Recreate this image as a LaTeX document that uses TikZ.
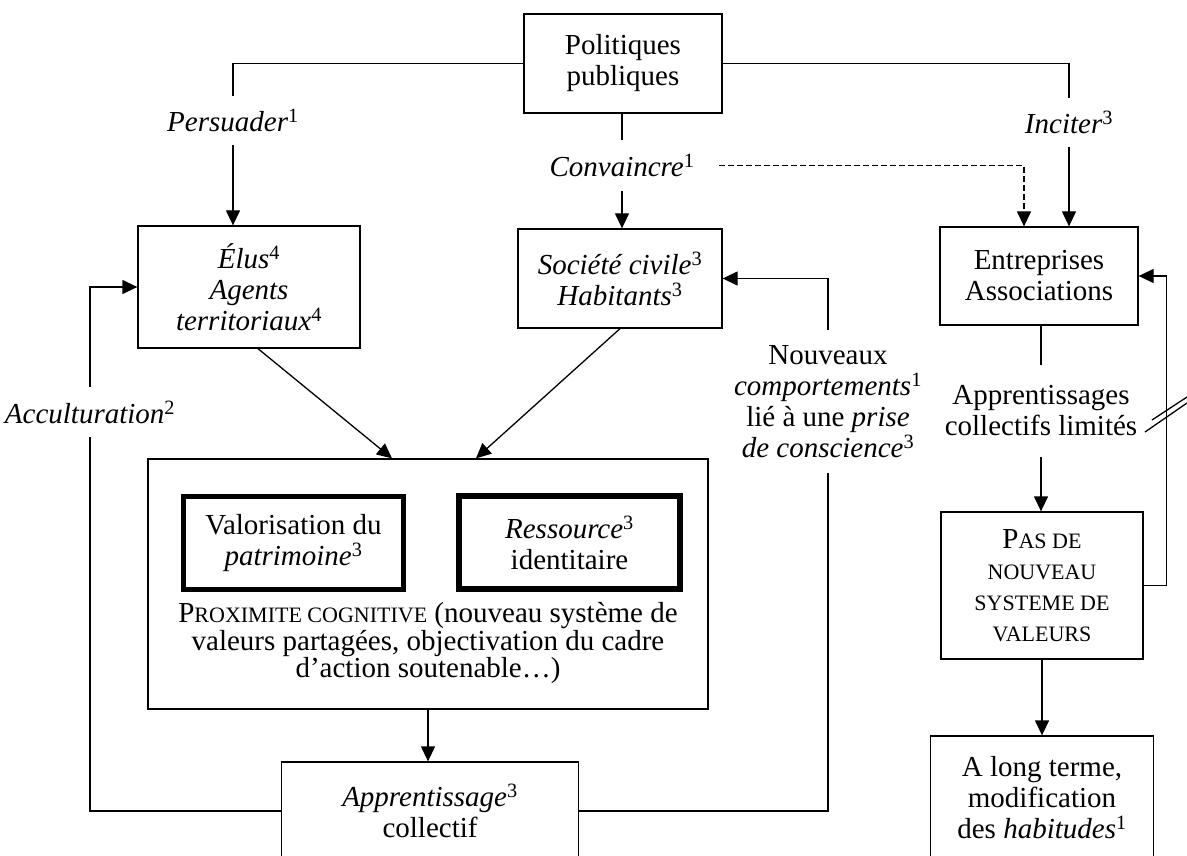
\documentclass[tikz,border=0pt]{standalone}
\usepackage{fontspec}
\setmainfont{Liberation Serif}
\usetikzlibrary{arrows.meta}

\newcommand{\Sc}[1]{{\fontsize{22}{31}\selectfont #1}}
\newcommand{\Lw}{1.3pt}

\begin{document}
\begin{tikzpicture}[x=1pt,y=-1pt,
  box/.style={draw,line width=\Lw,align=center,inner sep=0pt,font=\fontsize{29}{31}\selectfont},
  thickbox/.style={box,line width=5.5pt},
  lbl/.style={align=center,inner sep=0pt,font=\fontsize{29}{31}\selectfont},
  link/.style={line width=\Lw},
  arr/.style={line width=\Lw,-{Triangle[length=15pt,width=14pt]}}]
\useasboundingbox (0,0) rectangle (1187,856);

% boxes
\node[box,minimum width=198pt,minimum height=99pt] (pol) at (623,63.5) {Politiques\\publiques};
\node[box,minimum width=222pt,minimum height=122pt] (elus) at (249,287) {\textit{Élus}\textsuperscript{4}\\\textit{Agents}\\\textit{territoriaux}\textsuperscript{4}};
\node[box,minimum width=204pt,minimum height=99pt] (soc) at (620,278.5) {\textit{Société civile}\textsuperscript{3}\\\textit{Habitants}\textsuperscript{3}};
\node[box,minimum width=198pt,minimum height=98pt] (entr) at (1039,276) {Entreprises\\Associations};
\node[box,minimum width=560pt,minimum height=250pt] (prox) at (428,584) {};
\node[thickbox,minimum width=220pt,minimum height=93pt] (valo) at (293.5,543) {Valorisation du\\\textit{patrimoine}\textsuperscript{3}};
\node[thickbox,minimum width=221pt,minimum height=93pt] (ress) at (569.5,542.5) {\textit{Ressource}\textsuperscript{3}\\identitaire};
\node[lbl,font=\fontsize{29}{26}\selectfont] (proxtxt) at (428,643) {P\Sc{ROXIMITE COGNITIVE} (nouveau système de\\valeurs partagées, objectivation du cadre\\d’action soutenable…)};
\node[box,minimum width=297pt,minimum height=98pt] (appr) at (430,811) {\textit{Apprentissage}\textsuperscript{3}\\collectif};
\node[box,minimum width=202pt,minimum height=147pt] (pasde) at (1042,585.5) {P\Sc{AS DE}\\\Sc{NOUVEAU}\\\Sc{SYSTEME DE}\\\Sc{VALEURS}};
\node[box,minimum width=223pt,minimum height=124pt] (long) at (1042,798) {A long terme,\\modification\\des \textit{habitudes}\textsuperscript{1}};

% labels on the links
\node[lbl,minimum height=49pt] (pers) at (233,120.5) {\textit{Persuader}\textsuperscript{1}};
\node[lbl,minimum height=51pt,minimum width=194pt] (conv) at (622,165.5) {\textit{Convaincre}\textsuperscript{1}};
\node[lbl,minimum height=49pt] (inc) at (1069,122.5) {\textit{Inciter}\textsuperscript{3}};
\node[lbl,minimum height=50pt] (acc) at (90,412) {\textit{Acculturation}\textsuperscript{2}};
\node[lbl,minimum height=143pt] (nouv) at (828,401.5) {Nouveaux\\\textit{comportements}\textsuperscript{1}\\lié à une \textit{prise}\\\textit{de conscience}\textsuperscript{3}};
\node[lbl,minimum height=92pt] (apl) at (1041,411) {Apprentissages\\collectifs limités};

% links
\draw[link] (pol.west) -| (pers.north);
\draw[arr] (pers.south) -- (pers.south |- elus.north);% Persuader
\draw[link] (conv.north |- pol.south) -- (conv.north);
\draw[arr] (conv.south) -- (conv.south |- soc.north);% Convaincre
\draw[arr,dash pattern=on 6pt off 3pt] (conv.east) -| ([xshift=-15pt]entr.north);
\draw[link] (pol.east) -| (inc.north);
\draw[arr] (inc.south) -- (inc.south |- entr.north);% Inciter
\draw[arr] ([xshift=9pt]elus.south) -- ([xshift=-36pt]prox.north);
\draw[arr] (soc.south) -- ([xshift=48pt]prox.north);
\draw[arr] (prox.south) -- (prox.south |- appr.north);
\draw[link] (appr.west) -| (acc.south);
\draw[arr] (acc.north) |- (elus.west);% Acculturation
\draw[link] (appr.east) -| (nouv.south);
\draw[arr] (nouv.north) |- (soc.east);% Nouveaux comportements
\draw[link] (apl.north |- entr.south) -- (apl.north);
\draw[arr] (apl.south) -- (apl.south |- pasde.north);
\draw[arr] (pasde.south) -- (pasde.south |- long.north);
\draw[arr] (pasde.east) -- ++(23,0) |- (entr.east);
% break marks
\draw[link] (1152,420) -- (1187,397);
\draw[link] (1145,432) -- (1187,403);
\end{tikzpicture}
\end{document}
